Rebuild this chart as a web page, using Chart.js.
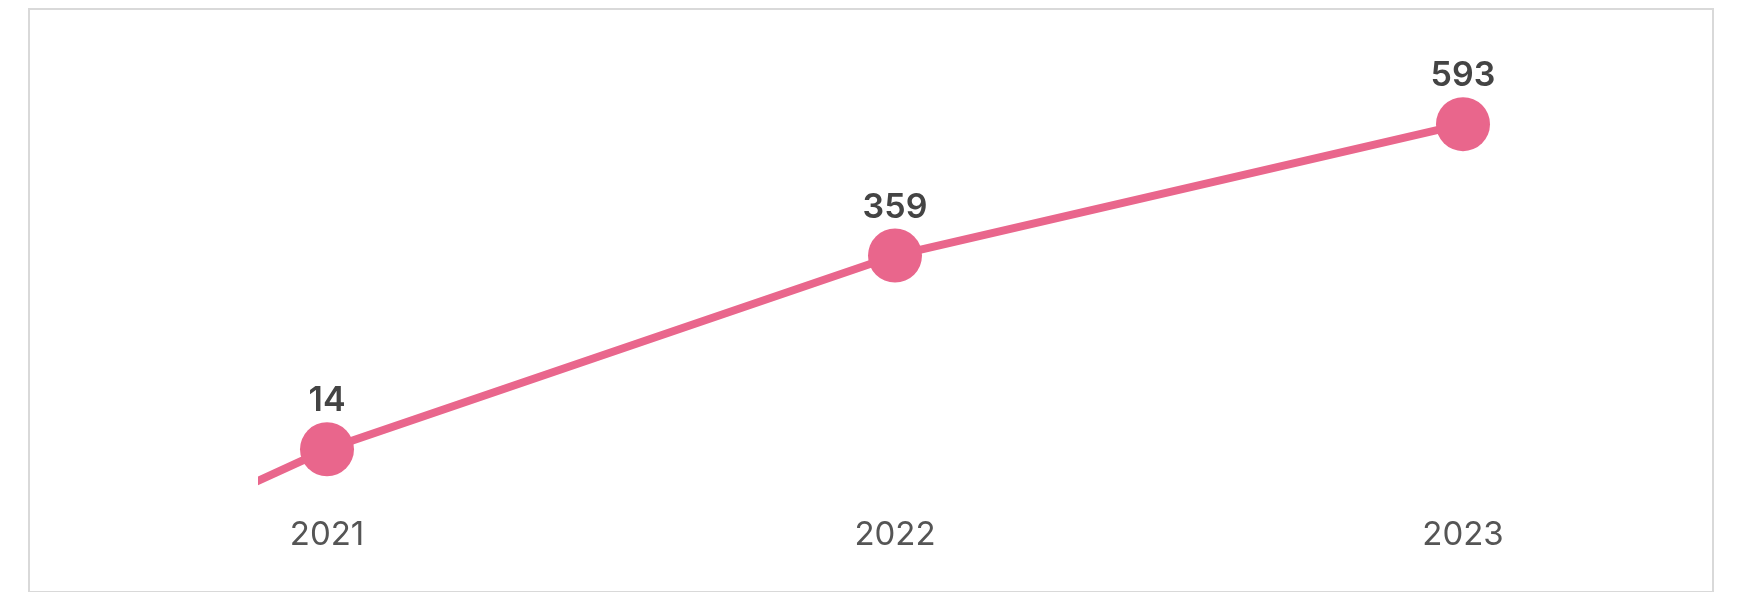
<!DOCTYPE html>
<html>
<head>
<meta charset="utf-8">
<script src="https://cdn.jsdelivr.net/npm/chart.js@4"></script>
<style>
	html, body { margin: 0; padding: 0; background: #fff; }
	#wrap { position: relative; width: 1748px; height: 592px; }
	#frame { position: absolute; left: 28px; top: 8px; width: 1682px; height: 581px; border: 2px solid #d9d9d9; pointer-events: none; }
	#chart { position: absolute; left: 0; top: 0; }
</style>
</head>
<body>
<div id="wrap">
	<div id="frame"></div>
	<canvas id="chart" width="1748" height="592"></canvas>
</div>
<script>
	// years on the x axis (2020 is only the start of the line, cut off at the left edge)
	var years = [2020, 2021, 2022, 2023];
	var tickYears = [2021, 2022, 2023];
	var values = [-450, 14, 359, 593];

	var pink = "#e9668c";

	/**
	 * draws the value above every visible point
	 */
	var valueLabels = {
		id : "valueLabels",
		afterDatasetsDraw : function(chart) {
			var ctx = chart.ctx;
			var meta = chart.getDatasetMeta(0);
			var area = chart.chartArea;
			ctx.save();
			ctx.font = "600 34px Inter";
			ctx.fillStyle = "#444";
			ctx.textAlign = "center";
			ctx.textBaseline = "alphabetic";
			for (var i = 0; i < meta.data.length; i++) {
				var pt = meta.data[i];
				if (pt.x < area.left) continue;
				ctx.fillText(String(values[i]), pt.x, pt.y - 38);
			}
			ctx.restore();
		}
	};

	var points = [];
	for (var i = 0; i < years.length; i++) {
		points.push({ x : years[i], y : values[i] });
	}

	var ctx = document.getElementById("chart");

	var chart = new Chart(ctx, {
		type : "line",
		data : {
			datasets : [
				{
					data : points,
					borderColor : pink,
					backgroundColor : pink,
					borderWidth : 8,
					pointRadius : 27,
					pointBorderWidth : 0,
					pointBackgroundColor : pink,
					fill : false,
					tension : 0,
					clip : { left : 0, top : false, right : false, bottom : false }
				}
			]
		},
		options : {
			responsive : false,
			animation : false,
			layout : {
				padding : { left : 258, right : 216, top : 20, bottom : 40 }
			},
			plugins : {
				legend : { display : false },
				tooltip : { enabled : false }
			},
			scales : {
				x : {
					type : "linear",
					min : 2020.8785,
					max : 2023.1215,
					grid : { display : false, drawTicks : false },
					border : { display : false },
					afterBuildTicks : function(scale) {
						scale.ticks = tickYears.map(function(v) { return { value : v }; });
					},
					afterFit : function(scale) {
						scale.height = 87;
					},
					ticks : {
						padding : 50,
						color : "#555",
						font : { family : "Inter", size : 33 },
						callback : function(v) { return String(v); }
					}
				},
				y : {
					display : false,
					min : -14,
					max : 766
				}
			}
		},
		plugins : [valueLabels]
	});
</script>
</body>
</html>
